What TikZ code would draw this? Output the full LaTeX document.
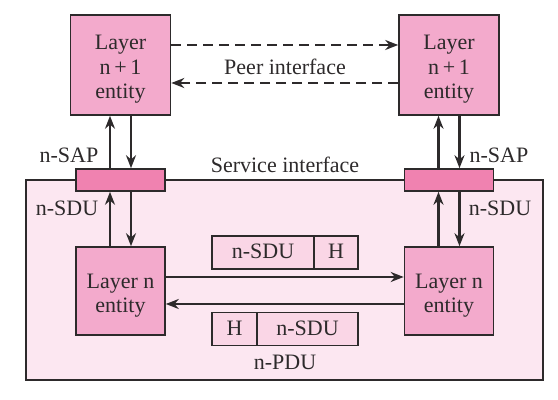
\documentclass[tikz,border=0pt]{standalone}
\usepackage{fontspec}
\setmainfont{Liberation Serif}
\usetikzlibrary{arrows.meta,positioning}

\definecolor{entpink}{RGB}{243,170,204}
\definecolor{sappink}{RGB}{240,130,176}
\definecolor{bgpink}{RGB}{252,231,241}
\definecolor{pdupink}{RGB}{250,214,230}
\definecolor{boxline}{RGB}{45,42,43}

\tikzset{
  entity/.style={draw=boxline,fill=entpink,line width=0.8pt,align=center,inner sep=0pt},
  sapbox/.style={draw=boxline,fill=sappink,line width=0.8pt,minimum width=44.5pt,minimum height=11pt,inner sep=0pt},
  pdu/.style={draw=boxline,fill=pdupink,line width=0.8pt,minimum height=16.5pt,inner sep=0pt,outer sep=0pt,
    text height=1.6ex,text depth=0.25ex},
  arr/.style={draw=boxline,line width=1.4pt,-{Stealth[length=6.5pt,width=5pt]}},
  peer/.style={arr,dash pattern=on 5pt off 3pt}
}

\begin{document}
\begin{tikzpicture}[x=0.5pt,y=-0.5pt,font=\fontsize{11}{12.3}\selectfont,text=boxline]

      \useasboundingbox (0,0) rectangle (558,400);

      % service provider background
      \node[draw=boxline,fill=bgpink,line width=0.8pt,minimum width=258.5pt,minimum height=100pt] (bg) at (284.5,280) {};

      \begin{scope}[every node/.style={entity}]
        \node[minimum width=50pt,minimum height=50pt,text height=36pt] (1) at (120.5,65) {Layer\\n\,+\,1\\entity};
        \node[minimum width=50pt,minimum height=50pt,text height=36pt] (2) at (449,65)   {Layer\\n\,+\,1\\entity};
        \node[minimum width=44.5pt,minimum height=44pt,text height=24pt] (5) at (120.5,291) {Layer n\\entity};
        \node[minimum width=44.5pt,minimum height=44pt,text height=24pt] (6) at (449,291)   {Layer n\\entity};
      \end{scope}

      \node[sapbox] (3) at (120.5,180) {};
      \node[sapbox] (4) at (449,180)   {};

      % PDUs
      \node[pdu,minimum width=51pt] (7) at (263,252.5) {n-SDU};
      \node[pdu,minimum width=22pt,right=0pt of 7] (8) {H};
      \node[pdu,minimum width=22.5pt] (9) at (234.5,329) {H};
      \node[pdu,minimum width=50.5pt,right=0pt of 9] (10) {n-SDU};

      % labels
      \node at (285,67)  {Peer interface};
      \node at (285,165) {Service interface};
      \node at (285,362) {n-PDU};
      \node at (69,155)  {n-SAP};
      \node at (67,208)  {n-SDU};
      \node at (499,155) {n-SAP};
      \node at (500,208) {n-SDU};

      \path[peer] ([yshift=10pt]1.east) -- ([yshift=10pt]2.west);
      \path[peer] ([yshift=-9pt]2.west) -- ([yshift=-9pt]1.east);

      \path[arr] ([xshift=-5.25pt]3.north) -- ([xshift=-5.25pt]1.south);
      \path[arr] ([xshift=5.25pt]1.south) -- ([xshift=5.25pt]3.north);
      \path[arr] ([xshift=-5.25pt]4.north) -- ([xshift=-5.25pt]2.south);
      \path[arr] ([xshift=5.25pt]2.south) -- ([xshift=5.25pt]4.north);

      \path[arr] ([xshift=-5.25pt]5.north) -- ([xshift=-5.25pt]3.south);
      \path[arr] ([xshift=5.25pt]3.south) -- ([xshift=5.25pt]5.north);
      \path[arr] ([xshift=-5.25pt]6.north) -- ([xshift=-5.25pt]4.south);
      \path[arr] ([xshift=5.25pt]4.south) -- ([xshift=5.25pt]6.north);

      \path[arr] ([yshift=7pt]5.east) -- ([yshift=7pt]6.west);
      \path[arr] ([yshift=-6.5pt]6.west) -- ([yshift=-6.5pt]5.east);

    \end{tikzpicture}
\end{document}
